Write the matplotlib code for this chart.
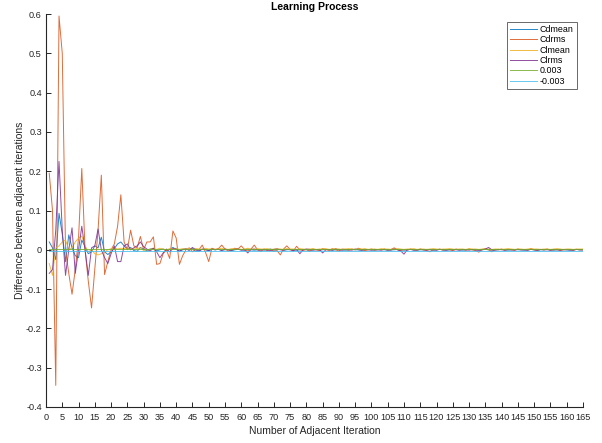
import matplotlib
matplotlib.use("Agg")
import matplotlib.pyplot as plt
import numpy as np
from matplotlib.ticker import FuncFormatter, MultipleLocator

plt.rcParams['font.family'] = ['Liberation Sans', 'DejaVu Sans']
plt.rcParams['axes.unicode_minus'] = False

# iteration-to-iteration differences, iterations 1..165
cd_mean = [
    0.020, 0.005, -0.025, 0.093, 0.040, -0.030, 0.038, 0.005, -0.015, -0.020,
    0.025, 0.008, -0.010, -0.005, 0.010, 0.005, 0.032, -0.005, -0.012, -0.005,
    0.003, 0.015, 0.020, 0.010, 0.002, 0.006, -0.002, -0.004, 0.006, 0.001,
    -0.002, 0.002, 0.004, -0.003, 0.000, 0.002, -0.002, 0.001, 0.006, 0.001,
    -0.003, 0.000, 0.002, -0.001, 0.003, -0.004, -0.002, 0.001, 0.000, -0.002,
    0.001, 0.000, 0.002, -0.001, 0.000, 0.001, -0.002, 0.000, 0.001, 0.000,
    -0.001, 0.002, 0.000, -0.001, 0.000, 0.001, -0.001, 0.000, 0.002, -0.001,
    0.000, 0.001, -0.001, 0.000, 0.001, 0.000, -0.001, 0.000, 0.001, 0.000,
    -0.001, 0.000, 0.001, -0.001, 0.000, 0.001, 0.000, -0.001, 0.000, 0.001,
    0.000, -0.001, 0.000, 0.001, 0.000, 0.000, -0.001, 0.000, 0.001, 0.000,
    -0.001, 0.000, 0.001, 0.000, -0.001, 0.000, 0.000, 0.001, 0.000, -0.001,
    0.000, 0.001, 0.000, -0.001, 0.000, 0.000, 0.001, 0.000, -0.001, 0.000,
    0.001, 0.000, -0.001, 0.000, 0.000, 0.001, 0.000, -0.001, 0.000, 0.001,
    0.000, 0.000, -0.001, 0.000, 0.001, 0.000, -0.001, 0.000, 0.000, 0.001,
    0.000, -0.001, 0.000, 0.001, 0.000, 0.000, -0.001, 0.000, 0.001, 0.000,
    -0.001, 0.000, 0.000, 0.001, 0.000, -0.001, 0.000, 0.001, 0.000, 0.000,
    -0.001, 0.000, 0.001, 0.000, 0.000,
]
cd_rms = [
    0.195, 0.100, -0.345, 0.595, 0.500, 0.000, -0.060, -0.113, -0.050, 0.030,
    0.207, 0.000, -0.080, -0.148, -0.050, 0.050, 0.190, -0.063, -0.030, 0.000,
    0.015, 0.060, 0.140, 0.020, 0.000, 0.050, 0.010, 0.005, 0.034, 0.000,
    0.020, 0.020, 0.033, -0.037, -0.035, -0.010, 0.000, -0.022, 0.048, 0.030,
    -0.037, -0.015, 0.000, 0.005, -0.005, 0.002, 0.000, 0.012, -0.006, -0.030,
    0.004, 0.001, 0.003, 0.012, 0.002, -0.003, 0.000, 0.004, 0.002, 0.010,
    0.001, -0.003, 0.002, 0.012, 0.000, -0.004, 0.002, -0.002, 0.001, -0.004,
    -0.002, -0.013, 0.002, 0.010, 0.001, -0.003, 0.009, 0.000, -0.002, 0.001,
    -0.004, 0.002, 0.000, -0.002, 0.003, 0.001, -0.002, 0.003, 0.000, -0.003,
    0.002, 0.001, -0.001, 0.002, 0.000, 0.004, 0.001, -0.002, 0.000, 0.002,
    -0.001, 0.001, 0.000, 0.002, -0.001, 0.001, 0.005, 0.000, -0.002, 0.001,
    -0.001, 0.002, 0.000, -0.001, 0.002, 0.000, -0.002, -0.005, 0.001, 0.000,
    0.002, -0.001, 0.001, 0.000, -0.002, 0.002, 0.000, 0.001, -0.001, 0.002,
    0.000, -0.002, -0.006, 0.001, 0.002, 0.000, -0.005, 0.001, 0.000, 0.002,
    -0.001, 0.001, 0.000, -0.001, 0.002, 0.000, 0.001, -0.001, 0.003, 0.000,
    -0.001, 0.001, 0.000, 0.002, -0.001, 0.000, 0.001, -0.002, 0.000, 0.001,
    0.000, -0.001, 0.001, 0.000, 0.000,
]
cl_mean = [
    -0.035, -0.065, 0.005, 0.010, 0.020, 0.025, 0.000, 0.005, 0.020, 0.030,
    0.035, 0.010, -0.005, 0.000, -0.010, -0.013, -0.010, -0.005, 0.000, 0.003,
    0.005, 0.002, 0.004, 0.003, 0.002, 0.004, 0.002, 0.003, 0.005, -0.002,
    -0.004, 0.002, 0.003, 0.001, 0.004, 0.002, 0.000, 0.003, 0.002, 0.004,
    0.001, 0.003, 0.002, 0.004, 0.001, 0.003, 0.002, 0.001, 0.004, 0.002,
    0.003, 0.001, 0.002, 0.004, 0.002, 0.001, 0.003, 0.002, 0.003, 0.001,
    0.002, 0.004, 0.002, 0.001, 0.003, 0.002, 0.002, 0.003, 0.001, 0.002,
    0.003, 0.002, 0.001, 0.003, 0.002, 0.002, 0.001, 0.003, 0.002, 0.001,
    0.002, 0.003, 0.001, 0.002, 0.002, 0.003, 0.001, 0.002, 0.003, 0.002,
    0.001, 0.002, 0.003, 0.002, 0.001, 0.002, 0.002, 0.003, 0.001, 0.002,
    0.002, 0.001, 0.003, 0.002, 0.002, 0.001, 0.002, 0.003, 0.002, 0.001,
    0.002, 0.002, 0.003, 0.001, 0.002, 0.002, 0.001, 0.002, 0.003, 0.002,
    0.001, 0.002, 0.002, 0.003, 0.002, 0.001, 0.002, 0.002, 0.001, 0.003,
    0.002, 0.002, 0.001, 0.002, 0.003, 0.002, 0.001, 0.002, 0.002, 0.001,
    0.002, 0.003, 0.002, 0.001, 0.002, 0.002, 0.001, 0.002, 0.003, 0.002,
    0.002, 0.001, 0.002, 0.002, 0.001, 0.002, 0.003, 0.002, 0.001, 0.002,
    0.002, 0.001, 0.002, 0.002, 0.002,
]
cl_rms = [
    -0.060, -0.050, 0.050, 0.225, 0.050, -0.065, 0.000, 0.056, -0.060, 0.000,
    0.060, 0.000, -0.065, 0.005, 0.010, 0.053, 0.000, -0.020, -0.035, -0.010,
    0.010, -0.030, -0.030, 0.010, 0.015, 0.000, 0.005, 0.010, 0.020, 0.008,
    0.002, -0.003, 0.004, -0.005, -0.020, -0.008, 0.002, -0.005, 0.003, 0.002,
    -0.004, 0.001, 0.002, -0.001, 0.006, 0.000, -0.004, 0.002, 0.001, -0.002,
    0.002, 0.000, 0.001, -0.002, 0.002, 0.000, -0.001, 0.001, 0.002, -0.001,
    0.000, -0.008, 0.001, 0.002, 0.000, -0.001, 0.001, 0.000, -0.002, 0.001,
    0.002, 0.000, -0.001, 0.001, 0.000, -0.002, 0.001, -0.010, 0.000, 0.002,
    0.001, -0.001, 0.000, 0.001, -0.008, 0.000, 0.001, -0.001, 0.002, 0.000,
    -0.001, 0.001, 0.000, -0.001, 0.002, 0.000, -0.001, 0.001, 0.000, -0.001,
    0.001, 0.000, -0.001, 0.001, 0.000, -0.001, 0.002, 0.000, -0.003, -0.011,
    0.000, 0.001, -0.001, 0.000, 0.001, 0.000, -0.001, 0.001, 0.000, -0.001,
    0.001, 0.000, -0.001, 0.001, 0.000, 0.000, -0.001, 0.001, 0.000, -0.001,
    0.001, 0.000, -0.001, 0.000, 0.002, 0.006, 0.000, -0.001, 0.001, 0.000,
    -0.001, 0.001, 0.000, -0.001, 0.001, 0.000, 0.000, -0.001, 0.001, 0.000,
    -0.001, 0.001, 0.000, 0.000, -0.001, 0.001, 0.000, -0.001, 0.001, 0.000,
    0.000, -0.001, 0.001, 0.000, 0.000,
]
upper_tol = 0.003
lower_tol = -0.003

iters = np.arange(1, len(cd_rms) + 1)

fig = plt.figure(figsize=(6.02, 4.43), dpi=100)
ax = fig.add_axes([0.0764, 0.0813, 0.892, 0.887])

lw = 0.7
a = 0.85
ax.plot(iters, cd_mean, color='#0072BD', lw=lw, alpha=a, label='Cdmean')
ax.plot(iters, cd_rms, color='#D95319', lw=lw, alpha=a, label='Cdrms')
ax.plot(iters, cl_mean, color='#EDB120', lw=lw, alpha=a, label='Clmean')
ax.plot(iters, cl_rms, color='#7E2F8E', lw=lw, alpha=a, label='Clrms')
ax.plot(iters, np.full(len(iters), upper_tol), color='#77AC30', lw=lw, alpha=a, label='0.003')
ax.plot(iters, np.full(len(iters), lower_tol), color='#4DBEEE', lw=lw, alpha=a, label='-0.003')

ax.set_xlim(0, 165)
ax.set_ylim(-0.4, 0.6)
ax.xaxis.set_major_locator(MultipleLocator(5))
ax.yaxis.set_major_locator(MultipleLocator(0.1))
ax.yaxis.set_major_formatter(FuncFormatter(lambda v, p: '{:g}'.format(round(v, 2))))

for s in ['top', 'right']:
    ax.spines[s].set_visible(False)
for s in ['left', 'bottom']:
    ax.spines[s].set_color('#262626')
    ax.spines[s].set_linewidth(0.8)
ax.tick_params(direction='in', length=3.5, width=0.7, colors='#262626',
               labelsize=6.6)
ax.tick_params(axis='x', pad=4.5)
ax.tick_params(axis='y', pad=3)

ax.set_title('Learning Process', fontsize=7.5, fontweight='bold', pad=3)
ax.set_xlabel('Number of Adjacent Iteration', fontsize=7.5, color='#262626', labelpad=2.5)
ax.set_ylabel('Difference between adjacent iterations', fontsize=7.5, color='#262626', labelpad=1)

leg = ax.legend(loc='upper right', bbox_to_anchor=(0.988, 0.98), fontsize=6.4,
                frameon=True, fancybox=False, handlelength=3.0, handletextpad=0.3,
                borderpad=0.35, labelspacing=0.15, borderaxespad=0)
leg.get_frame().set_edgecolor('#262626')
leg.get_frame().set_linewidth(0.6)

fig.savefig('out.png', dpi=100)
